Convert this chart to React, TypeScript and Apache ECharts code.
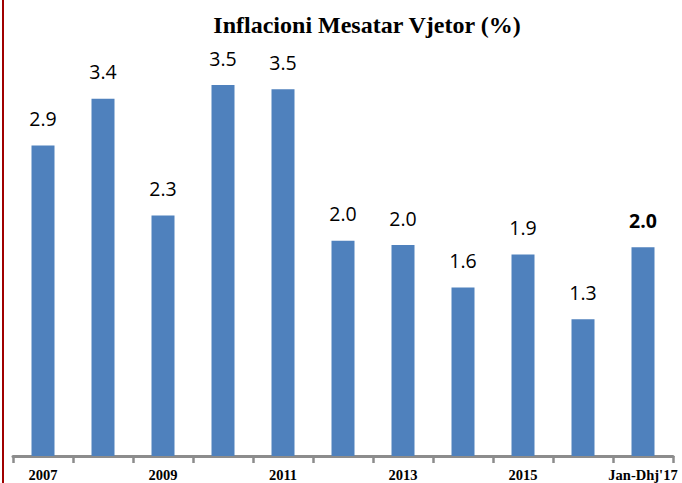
import React, { useEffect, useRef } from "react";
import * as echarts from "echarts";

const categories = ["2007", "2008", "2009", "2010", "2011", "2012", "2013", "2014", "2015", "2016", "Jan-Dhj'17"];
const values = [2.93, 3.37, 2.27, 3.5, 3.46, 2.03, 1.99, 1.59, 1.9, 1.29, 1.97];
const title = "Inflacioni Mesatar Vjetor (%)";

export default function App() {
  const ref = useRef<HTMLDivElement>(null);
  useEffect(() => {
    const chart = echarts.init(ref.current!, null, { renderer: "svg" });
    const last = values.length - 1;
    chart.setOption({
      animation: false,
      backgroundColor: "#ffffff",
      grid: { left: 13, right: 9, top: 32, bottom: 27, containLabel: false },
      xAxis: {
        type: "category",
        data: categories,
        boundaryGap: true,
        axisLine: { show: true, lineStyle: { color: "#8c8c8c", width: 3 } },
        axisTick: { show: true, interval: 0, length: 7, lineStyle: { color: "#8c8c8c", width: 2.5 } },
        axisLabel: {
          interval: 1,
          fontFamily: "Liberation Serif",
          fontWeight: "bold",
          fontSize: 14.5,
          color: "#000",
          margin: 11,
        },
      },
      yAxis: { type: "value", min: 0, max: 4, show: false, splitLine: { show: false } },
      series: [
        {
          type: "bar",
          data: values.map((v, i) => ({
            value: v,
            label: i === last ? { fontWeight: "bold" } : undefined,
          })),
          barWidth: 23,
          itemStyle: { color: "#4F81BD" },
          label: {
            show: true,
            position: "top",
            distance: 17,
            fontFamily: "Open Sans",
            fontSize: 19.5,
            color: "#000",
            formatter: (p: any) => Number(p.value).toFixed(1),
          },
        },
      ],
      graphic: [
        { type: "rect", shape: { x: 2, y: 0, width: 2, height: 483 }, style: { fill: "#A00000" } },
        {
          type: "text",
          x: 367,
          y: 25,
          style: {
            text: title,
            font: "bold 24px 'Liberation Serif'",
            fill: "#000",
            textAlign: "center",
            textVerticalAlign: "middle",
          },
        },
      ],
    });
    return () => chart.dispose();
  }, []);
  return <div ref={ref} style={{ width: 682, height: 483, position: "fixed", left: 0, top: 0 }} />;
}
